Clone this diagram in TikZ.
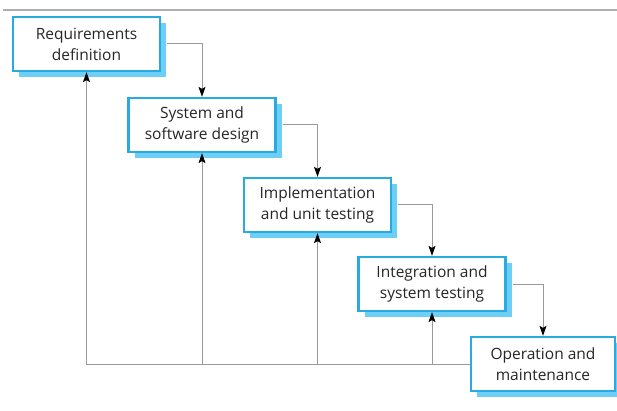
\documentclass[tikz,border=0pt]{standalone}
\usepackage{fontspec}
\setmainfont{Open Sans}
\usepackage{tikz}
\usetikzlibrary{arrows.meta}
\usetikzlibrary{shadows}

\definecolor{boxblue}{HTML}{29ABE2}
\definecolor{shadowblue}{HTML}{6DCFF6}
\definecolor{linegray}{HTML}{9A9A9A}

\tikzset{
  phase/.style={draw=boxblue, line width=2.3pt, fill=white, minimum width=147pt,
    minimum height=54pt, inner sep=0pt, align=center, text=black!85,
    font=\fontsize{15.5}{21}\selectfont,
    drop shadow={shadow xshift=6pt, shadow yshift=-6pt, fill=shadowblue, opacity=1}},
  flow/.style={draw=linegray, line width=1pt, -{Stealth[black, length=10pt, width=7pt, inset=2pt]}}
}

\begin{document}
\begin{tikzpicture}[x=1pt,y=-1pt]
 \useasboundingbox (0,0) rectangle (617,411);
 \draw [linegray!80, line width=2pt] (3,10) -- (617,10);

 \node[phase] (req) at (86.5,44) {Requirements\\definition};
 \node[phase] (design) at (202,125) {System and\\software design};
 \node[phase] (impl) at (317.5,205) {Implementation\\and unit testing};
 \node[phase] (integ) at (432,284) {Integration and\\system testing};
 \node[phase, minimum width=144pt] (oper) at (543,364) {Operation and\\maintenance};

 \draw [flow] ([xshift=6pt]req.east) -| (design.north);
 \draw [flow] ([xshift=6pt]design.east) -| (impl.north);
 \draw [flow] ([xshift=6pt]impl.east) -| (integ.north);
 \draw [flow] ([xshift=6pt]integ.east) -| (oper.north);

 \draw [flow] (oper.west) -| (req.south);
 \draw [flow] (oper.west -| design.south) -- (design.south);
 \draw [flow] (oper.west -| impl.south) -- (impl.south);
 \draw [flow] (oper.west -| integ.south) -- (integ.south);
\end{tikzpicture}
\end{document}
